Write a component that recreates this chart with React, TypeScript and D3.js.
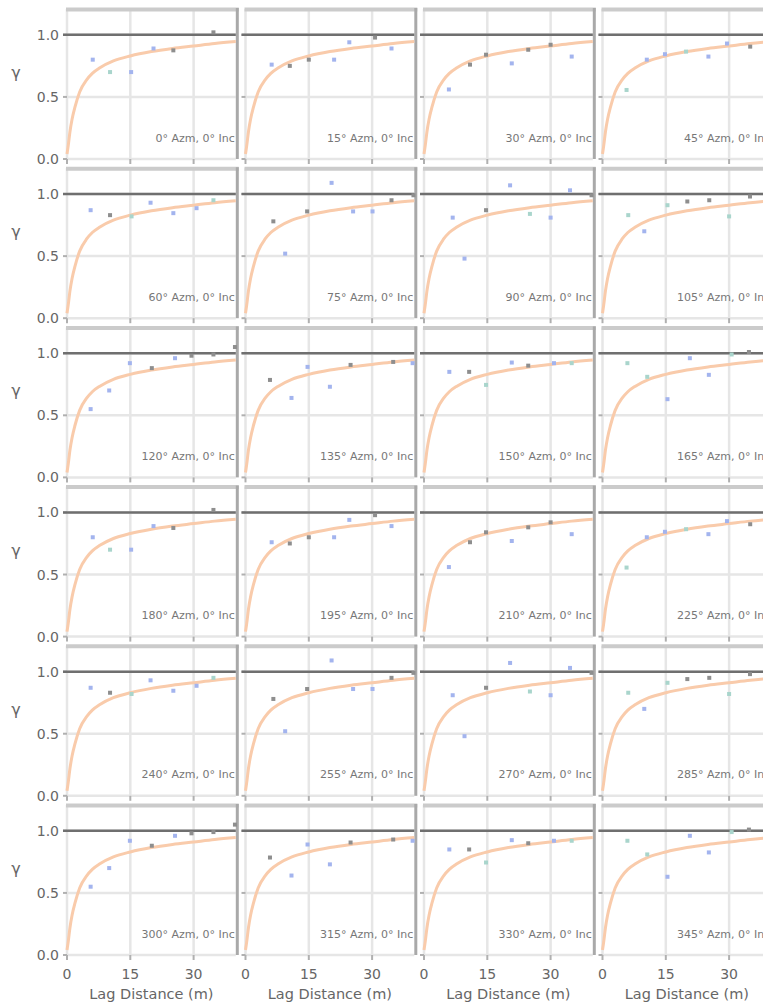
import React from "react";
import * as d3 from "d3";

// ---- data ----
const AZIMUTHS = [0, 15, 30, 45, 60, 75, 90, 105, 120, 135, 150, 165, 180, 195, 210, 225, 240, 255, 270, 285, 300, 315, 330, 345];
const X_TICKS = [0, 15, 30];
const Y_TICKS = [0, 0.5, 1.0];
const SILL = 1.0;

// fitted model curve (lag, gamma)
const MODEL_LAG = [0, 0.3, 0.7, 1.2, 1.9, 3.0, 4.7, 6.0, 7.8, 11, 15, 20, 25, 30, 35, 40];
const MODEL_GAMMA = [0.04, 0.11, 0.22, 0.32, 0.42, 0.54, 0.64, 0.69, 0.735, 0.79, 0.83, 0.865, 0.89, 0.91, 0.93, 0.946];

// experimental points: [lag, gamma, tone]  (b = blue, g = gray, t = teal)
const PTS_0: [number, number, string][] = [[6.1, 0.80, "b"], [10.2, 0.70, "t"], [15.2, 0.70, "b"], [20.5, 0.89, "b"], [25.2, 0.875, "g"], [34.7, 1.02, "g"]];
const PTS_15: [number, number, string][] = [[6.2, 0.76, "b"], [10.5, 0.75, "g"], [15.0, 0.80, "g"], [21.0, 0.80, "b"], [24.6, 0.94, "b"], [30.7, 0.978, "g"], [34.6, 0.89, "b"]];
const PTS_30: [number, number, string][] = [[5.9, 0.56, "b"], [10.9, 0.76, "g"], [14.7, 0.84, "g"], [20.8, 0.77, "b"], [24.7, 0.88, "g"], [30.0, 0.92, "g"], [35.0, 0.825, "b"]];
const PTS_45: [number, number, string][] = [[5.7, 0.556, "t"], [10.5, 0.80, "b"], [14.8, 0.844, "b"], [19.8, 0.865, "t"], [25.1, 0.825, "b"], [29.5, 0.93, "b"], [35.0, 0.905, "g"]];
const PTS_60: [number, number, string][] = [[5.6, 0.87, "b"], [10.2, 0.83, "g"], [15.3, 0.82, "t"], [19.8, 0.93, "b"], [25.2, 0.846, "b"], [30.7, 0.886, "b"], [34.7, 0.95, "t"]];
const PTS_75: [number, number, string][] = [[6.6, 0.78, "g"], [9.4, 0.52, "b"], [14.6, 0.86, "g"], [20.4, 1.09, "b"], [25.5, 0.86, "b"], [30.1, 0.86, "b"], [34.6, 0.95, "g"], [39.8, 0.99, "g"]];
const PTS_90: [number, number, string][] = [[6.8, 0.81, "b"], [9.6, 0.48, "b"], [14.7, 0.87, "g"], [20.4, 1.07, "b"], [25.1, 0.84, "t"], [30.0, 0.81, "b"], [34.6, 1.03, "b"], [39.7, 0.99, "g"]];
const PTS_105: [number, number, string][] = [[6.1, 0.83, "t"], [9.9, 0.70, "b"], [15.4, 0.91, "t"], [20.1, 0.94, "g"], [25.3, 0.95, "g"], [30.0, 0.82, "t"], [34.95, 0.98, "g"]];
const PTS_120: [number, number, string][] = [[5.6, 0.55, "b"], [10.0, 0.70, "b"], [14.9, 0.92, "b"], [20.1, 0.88, "g"], [25.6, 0.96, "b"], [29.5, 0.98, "g"], [34.7, 0.99, "g"], [39.8, 1.05, "g"]];
const PTS_135: [number, number, string][] = [[5.8, 0.785, "g"], [10.9, 0.64, "b"], [14.7, 0.89, "b"], [20.0, 0.73, "b"], [24.9, 0.906, "g"], [35.0, 0.93, "g"], [39.6, 0.92, "b"]];
const PTS_150: [number, number, string][] = [[6.0, 0.85, "b"], [10.7, 0.85, "g"], [14.7, 0.745, "t"], [20.8, 0.925, "b"], [24.7, 0.90, "g"], [30.8, 0.92, "b"], [35.0, 0.92, "t"]];
const PTS_165: [number, number, string][] = [[5.9, 0.92, "t"], [10.6, 0.81, "t"], [15.4, 0.63, "b"], [20.7, 0.96, "b"], [25.2, 0.826, "b"], [30.6, 0.99, "t"], [34.7, 1.01, "g"]];

// directional variograms are symmetric: azimuth a and a+180 share the same points
const POINTS_BY_AZM: Record<number, [number, number, string][]> = {
  0: PTS_0, 15: PTS_15, 30: PTS_30, 45: PTS_45, 60: PTS_60, 75: PTS_75,
  90: PTS_90, 105: PTS_105, 120: PTS_120, 135: PTS_135, 150: PTS_150, 165: PTS_165,
};

// ---- layout / style ----
const W = 763;
const H = 1007;
const NCOL = 4;
const COL0 = 67;
const COL_STEP = 178.5;
const ROW0 = 10;
const ROW_STEP = 159.2;
const PW = 168.8;
const PH = 149;
const FONT = "'DejaVu Sans', sans-serif";
const TONE: Record<string, string> = { b: "#a3b4ee", g: "#8e8e8e", t: "#a9d5cc" };

const x = d3.scaleLinear().domain([0, 40]).range([0, PW]);
const y = d3.scaleLinear().domain([0, 1.2]).range([PH, 0]);
const modelLine = d3
  .line<number>()
  .x((_, i) => x(MODEL_LAG[i]))
  .y((g) => y(g))
  .curve(d3.curveMonotoneX);

function Panel({ azm, col, row, nrow }: { azm: number; col: number; row: number; nrow: number }) {
  const x0 = COL0 + col * COL_STEP;
  const y0 = ROW0 + row * ROW_STEP;
  const pts = POINTS_BY_AZM[azm % 180];
  const isBottom = row === nrow - 1;
  return (
    <g transform={`translate(${x0},${y0})`}>
      {X_TICKS.map((t) => (
        <line key={"vx" + t} x1={x(t)} x2={x(t)} y1={-1} y2={PH} stroke="#e6e6e6" strokeWidth={2.5} />
      ))}
      {Y_TICKS.map((t) => (
        <line key={"hy" + t} x1={0} x2={PW} y1={y(t)} y2={y(t)} stroke="#e6e6e6" strokeWidth={2.5} />
      ))}
      {X_TICKS.map((t) => (
        <line key={"tx" + t} x1={x(t)} x2={x(t)} y1={PH} y2={PH + 5} stroke="#b0b0b0" strokeWidth={2} />
      ))}
      {Y_TICKS.map((t) => (
        <line key={"ty" + t} x1={-4} x2={0} y1={y(t)} y2={y(t)} stroke="#b0b0b0" strokeWidth={2} />
      ))}
      <line x1={-1} x2={PW + 3} y1={-0.5} y2={-0.5} stroke="#cbcbcb" strokeWidth={4} />
      <line x1={PW + 1.5} x2={PW + 1.5} y1={-2} y2={PH} stroke="#a9a9a9" strokeWidth={3} />
      <line x1={-4} x2={PW} y1={y(SILL)} y2={y(SILL)} stroke="#6f6f6f" strokeWidth={2.5} />
      <path d={modelLine(MODEL_GAMMA) || ""} fill="none" stroke="#f9cbab" strokeWidth={3} />
      {pts.map(([lag, g, tone], i) => (
        <rect key={i} x={x(lag) - 2} y={y(g) - 2} width={4} height={4} fill={TONE[tone]} />
      ))}
      <text x={PW - 1} y={PH - 17.5} textAnchor="end" fontSize={11} fill="#777" fontFamily={FONT}>
        {`${azm}° Azm, 0° Inc`}
      </text>
      {col === 0 &&
        Y_TICKS.map((t) => (
          <text key={"yl" + t} x={-8} y={y(t)} dy="0.36em" textAnchor="end" fontSize={14} fill="#666" fontFamily={FONT}>
            {d3.format(".1f")(t)}
          </text>
        ))}
      {col === 0 && (
        <text x={16 - x0} y={68} textAnchor="middle" fontSize={16} fill="#666" fontFamily={FONT}>
          γ
        </text>
      )}
      {isBottom &&
        X_TICKS.map((t) => (
          <text key={"xl" + t} x={x(t)} y={PH + 19} dy="0.36em" textAnchor="middle" fontSize={14} fill="#666" fontFamily={FONT}>
            {t}
          </text>
        ))}
      {isBottom && (
        <text x={PW / 2} y={PH + 39} dy="0.36em" textAnchor="middle" fontSize={14.5} fill="#666" fontFamily={FONT}>
          Lag Distance (m)
        </text>
      )}
    </g>
  );
}

export default function App() {
  const nrow = Math.ceil(AZIMUTHS.length / NCOL);
  return (
    <svg width={W} height={H} style={{ position: "absolute", left: 0, top: 0, background: "#fff" }}>
      <rect width={W} height={H} fill="#fff" />
      {AZIMUTHS.map((azm, i) => (
        <Panel key={azm} azm={azm} col={i % NCOL} row={Math.floor(i / NCOL)} nrow={nrow} />
      ))}
    </svg>
  );
}
